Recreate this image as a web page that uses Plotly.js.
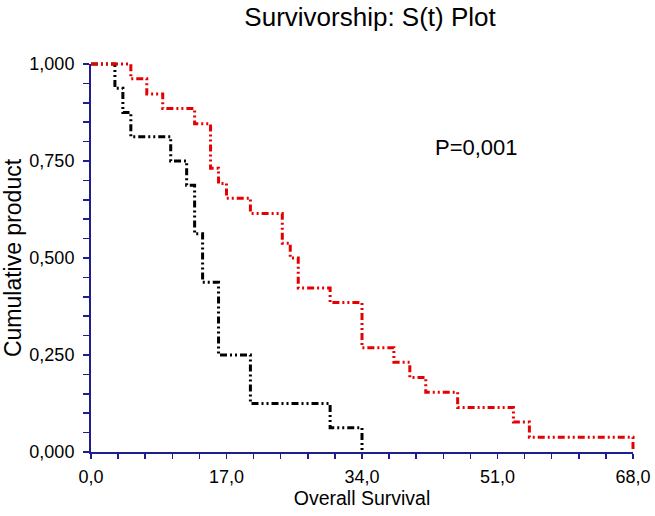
<!DOCTYPE html>
<html>
<head>
<meta charset="utf-8">
<script src="https://cdn.plot.ly/plotly-3.0.1.min.js"></script>
<style>html,body{margin:0;padding:0;background:#fff;}#chart{width:655px;height:516px;}</style>
</head>
<body>
<div id="chart"></div>
<script>
// Kaplan-Meier step data
const groupATimes = [0, 3, 4, 5, 10, 12, 13, 14, 16, 20, 30, 34];
const groupASurv  = [1.000, 0.9375, 0.875, 0.8125, 0.750, 0.6875, 0.5625, 0.4375, 0.250, 0.125, 0.0625, 0.000];
const groupBTimes = [0, 5, 7, 9, 13, 15, 16, 17, 20, 24, 25, 26, 30, 34, 38, 40, 42, 46, 53, 55, 68];
const groupBSurv  = [1.000, 0.962, 0.923, 0.885, 0.846, 0.731, 0.692, 0.654, 0.615, 0.538, 0.500, 0.423, 0.385, 0.269, 0.231, 0.192, 0.154, 0.115, 0.077, 0.038, 0.000];
const xRange = [0, 68];
const yRange = [0, 1];
const titleText = "Survivorship: S(t) Plot";
const xTitle = "Overall Survival";
const yTitle = "Cumulative product";
const pText = "P=0,001";

const FONT = "Liberation Sans, Arial, Helvetica, sans-serif";
const AX = "#1e1e90";
const dash = "7px,3px,2px,3px,2px,3px";

// padding (in data units) so lines on the frame are not clipped
const padX = 0.6273, padY = 0.012887;

const traces = [
  {x: groupATimes, y: groupASurv, type: "scatter", mode: "lines",
   line: {shape: "hv", color: "#000000", width: 3, dash: dash},
   xaxis: "x", yaxis: "y", hoverinfo: "x+y"},
  {x: groupBTimes, y: groupBSurv, type: "scatter", mode: "lines",
   line: {shape: "hv", color: "#e60000", width: 3, dash: dash},
   xaxis: "x", yaxis: "y", hoverinfo: "x+y"},
  {x: [], y: [], type: "scatter", mode: "lines", xaxis: "x2", yaxis: "y2", hoverinfo: "skip"}
];

const layout = {
  width: 655, height: 516,
  margin: {l: 86, r: 17, t: 59, b: 59},
  paper_bgcolor: "#ffffff", plot_bgcolor: "rgba(0,0,0,0)",
  separators: ", ",
  showlegend: false,
  font: {family: FONT, color: "#000000", size: 18},
  title: {text: titleText, font: {family: FONT, size: 26, color: "#000"},
          x: 0.565, xanchor: "center", y: 0.967, yanchor: "middle"},
  xaxis: {domain: [0, 1], range: [xRange[0] - padX, xRange[1] + padX], visible: false, fixedrange: true},
  yaxis: {domain: [0, 1], range: [yRange[0] - padY, yRange[1] + padY], visible: false, fixedrange: true},
  xaxis2: {
    domain: [5/552, 547/552], anchor: "y2", range: xRange,
    showline: true, linecolor: AX, linewidth: 2, zeroline: false, showgrid: false,
    tickmode: "linear", tick0: 0, dtick: 17, tickformat: ".1f",
    ticks: "outside", ticklen: 5, tickwidth: 1.5, tickcolor: AX, ticklabelstandoff: 2,
    minor: {tickmode: "linear", tick0: 0, dtick: 3.4, ticks: "outside", ticklen: 5, tickwidth: 1.5, tickcolor: AX, showgrid: false},
    tickfont: {family: FONT, size: 18, color: "#000"},
    title: {text: xTitle, font: {family: FONT, size: 19.5, color: "#000"}, standoff: 5},
    fixedrange: true
  },
  yaxis2: {
    domain: [5/398, 393/398], anchor: "x2", range: yRange,
    showline: true, linecolor: AX, linewidth: 2, zeroline: false, showgrid: false,
    tickmode: "linear", tick0: 0, dtick: 0.25, tickformat: ".3f",
    ticks: "outside", ticklen: 6, tickwidth: 1.5, tickcolor: AX, ticklabelstandoff: 5,
    minor: {tickmode: "linear", tick0: 0, dtick: 0.05, ticks: "outside", ticklen: 6, tickwidth: 1.5, tickcolor: AX, showgrid: false},
    tickfont: {family: FONT, size: 18, color: "#000"},
    title: {text: yTitle, font: {family: FONT, size: 23, color: "#000"}, standoff: 7},
    fixedrange: true
  },
  annotations: [
    {text: pText, xref: "x2", yref: "y2", x: 48.4, y: 0.785, showarrow: false,
     xanchor: "center", yanchor: "middle", font: {family: FONT, size: 22, color: "#000"}}
  ]
};

Plotly.newPlot("chart", traces, layout, {displayModeBar: false, staticPlot: true});
</script>
</body>
</html>
